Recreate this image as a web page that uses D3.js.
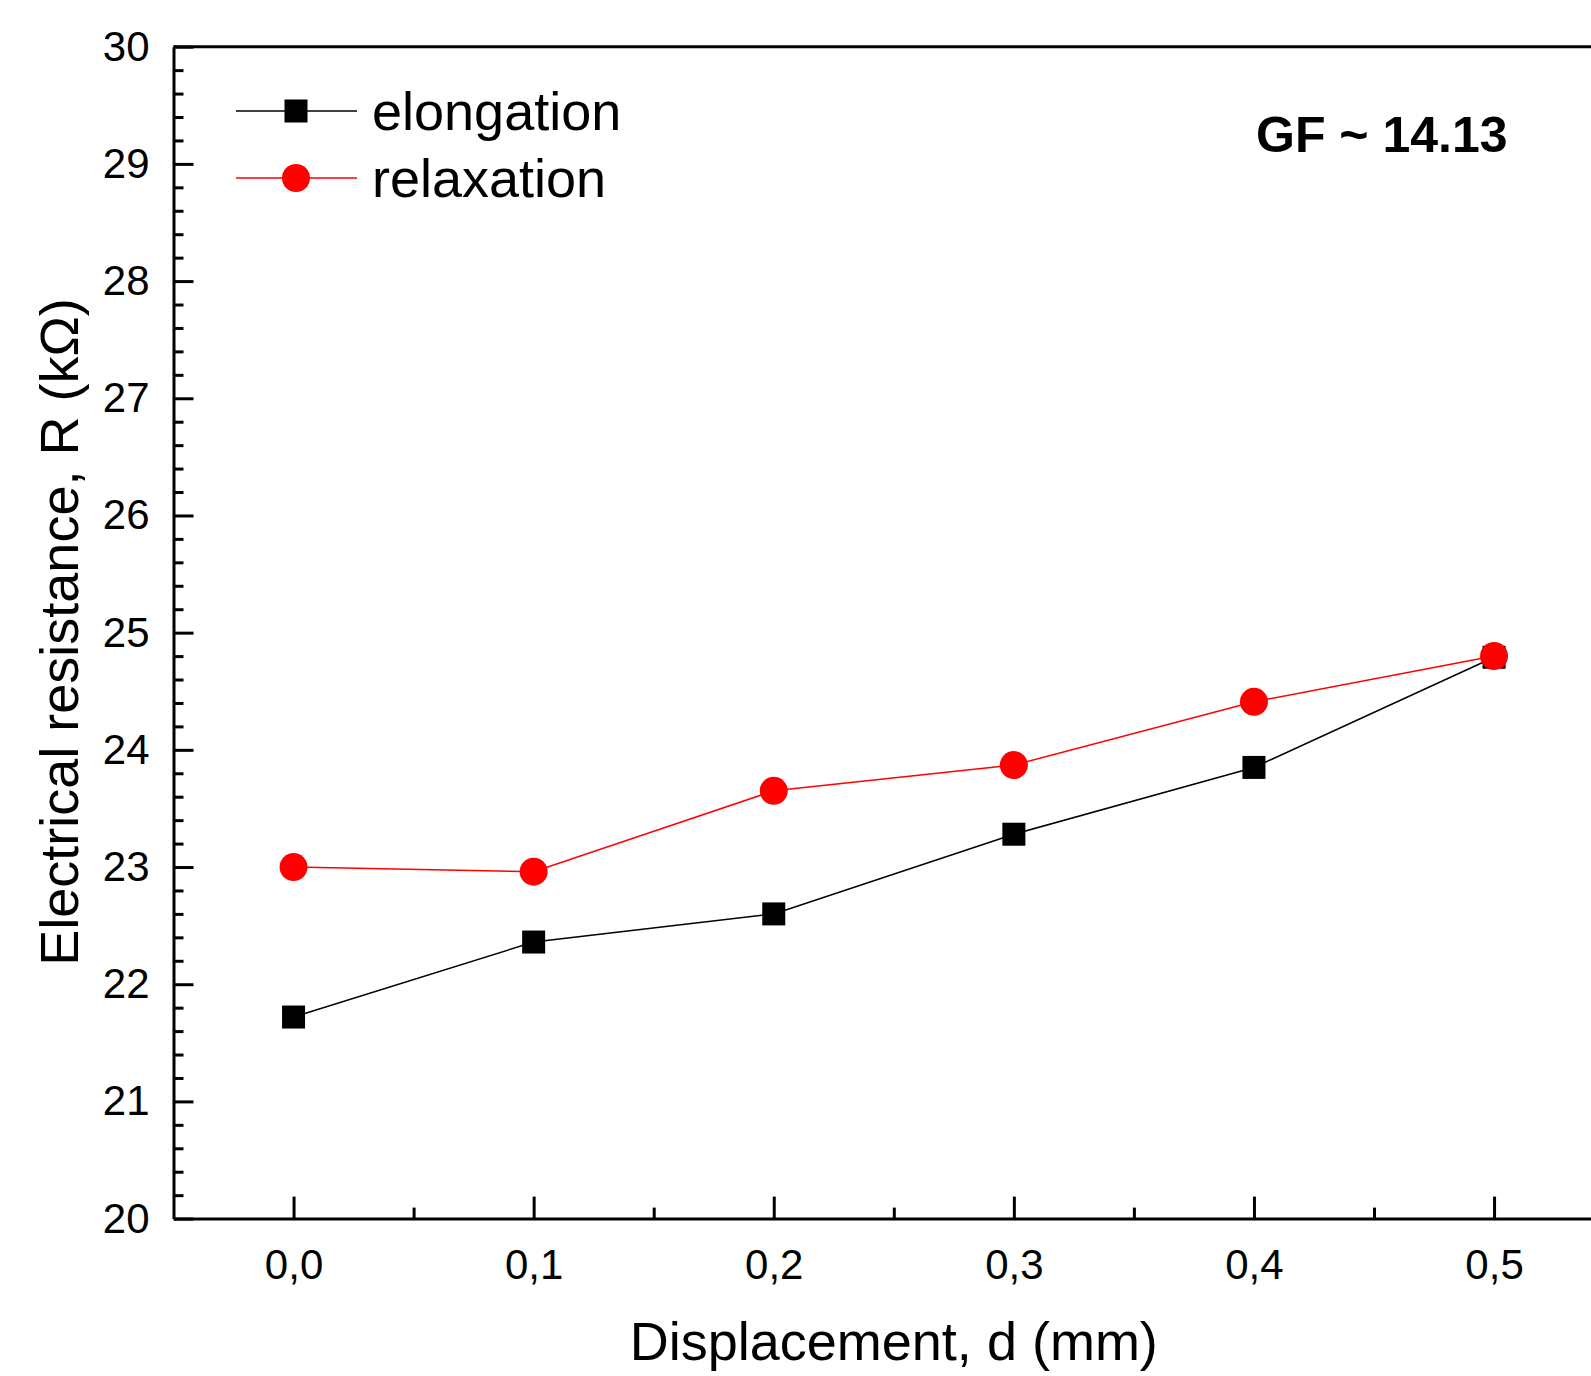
<!DOCTYPE html>
<html>
<head>
<meta charset="utf-8">
<script src="https://cdn.jsdelivr.net/npm/d3@7"></script>
<style>
  body { margin: 0; background: #fff; }
  svg text { font-family: "Liberation Sans", Arial, sans-serif; fill: #000; }
  .axis path, .axis line { stroke: #000; }
</style>
</head>
<body>
<svg></svg>
<script>
// data
var displacement = [0.0, 0.1, 0.2, 0.3, 0.4, 0.5];
var elongation = [21.72, 22.36, 22.60, 23.28, 23.85, 24.79];
var relaxation = [23.00, 22.96, 23.65, 23.87, 24.41, 24.80];
var xTicks = [0.0, 0.1, 0.2, 0.3, 0.4, 0.5];
var xMinor = [0.05, 0.15, 0.25, 0.35, 0.45];
var yTicks = [20, 21, 22, 23, 24, 25, 26, 27, 28, 29, 30];

var svgWidth = 1591, svgHeight = 1376;
var margin = { top: 46.7, left: 173.5 };
var width = 1440.6, height = 1171.9;

var svg = d3.select('svg')
  .attr('width', svgWidth)
  .attr('height', svgHeight);

var chart = svg.append('g')
  .attr('transform', `translate(${margin.left}, ${margin.top})`);

var x = d3.scaleLinear().domain([-0.05, 0.55]).range([0, width]);
var y = d3.scaleLinear().domain([20, 30]).range([height, 0]);

// minor ticks
var yMinor = d3.range(20, 30.001, 0.2).filter((v) => Math.abs(v - Math.round(v)) > 0.01);

chart.append('g')
  .attr('class', 'axis')
  .call(d3.axisLeft(y).tickValues(yMinor).tickSizeInner(-10).tickSizeOuter(0).tickFormat(''))
  .call((g) => g.select('.domain').remove())
  .selectAll('line').attr('stroke-width', 3);

chart.append('g')
  .attr('class', 'axis')
  .attr('transform', 'translate(0,' + height + ')')
  .call(d3.axisBottom(x).tickValues(xMinor).tickSizeInner(-11).tickSizeOuter(0).tickFormat(''))
  .call((g) => g.select('.domain').remove())
  .selectAll('line').attr('stroke-width', 3);

// major axes
var yAxis = chart.append('g')
  .attr('class', 'axis')
  .call(d3.axisLeft(y).tickValues(yTicks).tickSizeInner(-20).tickSizeOuter(0).tickPadding(24).tickFormat(d3.format('d')));
yAxis.selectAll('line').attr('stroke-width', 3);
yAxis.select('.domain').attr('stroke-width', 3);
yAxis.selectAll('text').style('font-size', '42px');

var xAxis = chart.append('g')
  .attr('class', 'axis')
  .attr('transform', 'translate(0,' + height + ')')
  .call(d3.axisBottom(x).tickValues(xTicks).tickSizeInner(-22).tickSizeOuter(0).tickPadding(31)
    .tickFormat((d) => d3.format('.1f')(d).replace('.', ',')));
xAxis.selectAll('line').attr('stroke-width', 3);
xAxis.select('.domain').attr('stroke-width', 3);
xAxis.selectAll('text').style('font-size', '42px');

// frame top and right
chart.append('path')
  .attr('d', `M0,0H${width}V${height}`)
  .attr('fill', 'none')
  .attr('stroke', '#000')
  .attr('stroke-width', 3);

// lines
var line = d3.line()
  .x((d, i) => x(displacement[i]))
  .y((d) => y(d));

chart.append('path')
  .datum(elongation)
  .attr('d', line)
  .attr('fill', 'none')
  .attr('stroke', '#000')
  .attr('stroke-width', 1.5);

chart.append('path')
  .datum(relaxation)
  .attr('d', line)
  .attr('fill', 'none')
  .attr('stroke', '#ff0000')
  .attr('stroke-width', 1.5);

var sq = 23, rad = 14;
chart.selectAll('.sq')
  .data(elongation)
  .enter()
  .append('rect')
  .attr('x', (d, i) => x(displacement[i]) - sq / 2)
  .attr('y', (d) => y(d) - sq / 2)
  .attr('width', sq)
  .attr('height', sq)
  .attr('fill', '#000');

chart.selectAll('.dot')
  .data(relaxation)
  .enter()
  .append('circle')
  .attr('cx', (d, i) => x(displacement[i]))
  .attr('cy', (d) => y(d))
  .attr('r', rad)
  .attr('fill', '#ff0000');

// legend
var legend = [
  { name: 'elongation', color: '#000', shape: 'square', y: 111 },
  { name: 'relaxation', color: '#ff0000', shape: 'circle', y: 178 }
];
legend.forEach(function (l) {
  svg.append('line')
    .attr('x1', 236).attr('x2', 357)
    .attr('y1', l.y).attr('y2', l.y)
    .attr('stroke', l.color)
    .attr('stroke-width', 1.5);
  if (l.shape == 'square') {
    svg.append('rect')
      .attr('x', 296 - sq / 2).attr('y', l.y - sq / 2)
      .attr('width', sq).attr('height', sq)
      .attr('fill', l.color);
  } else {
    svg.append('circle')
      .attr('cx', 296).attr('cy', l.y)
      .attr('r', rad)
      .attr('fill', l.color);
  }
  svg.append('text')
    .attr('x', 372)
    .attr('y', l.y + 19)
    .style('font-size', '54px')
    .text(l.name);
});

svg.append('text')
  .attr('x', 1256)
  .attr('y', 152)
  .style('font-size', '50px')
  .style('font-weight', 'bold')
  .text('GF ~ 14.13');

// axis titles
svg.append('text')
  .attr('x', margin.left + width / 2)
  .attr('y', 1360)
  .attr('text-anchor', 'middle')
  .style('font-size', '54px')
  .text('Displacement, d (mm)');

svg.append('text')
  .attr('transform', 'translate(78,632) rotate(-90)')
  .attr('text-anchor', 'middle')
  .style('font-size', '54px')
  .text('Electrical resistance, R (kΩ)');
</script>
</body>
</html>
